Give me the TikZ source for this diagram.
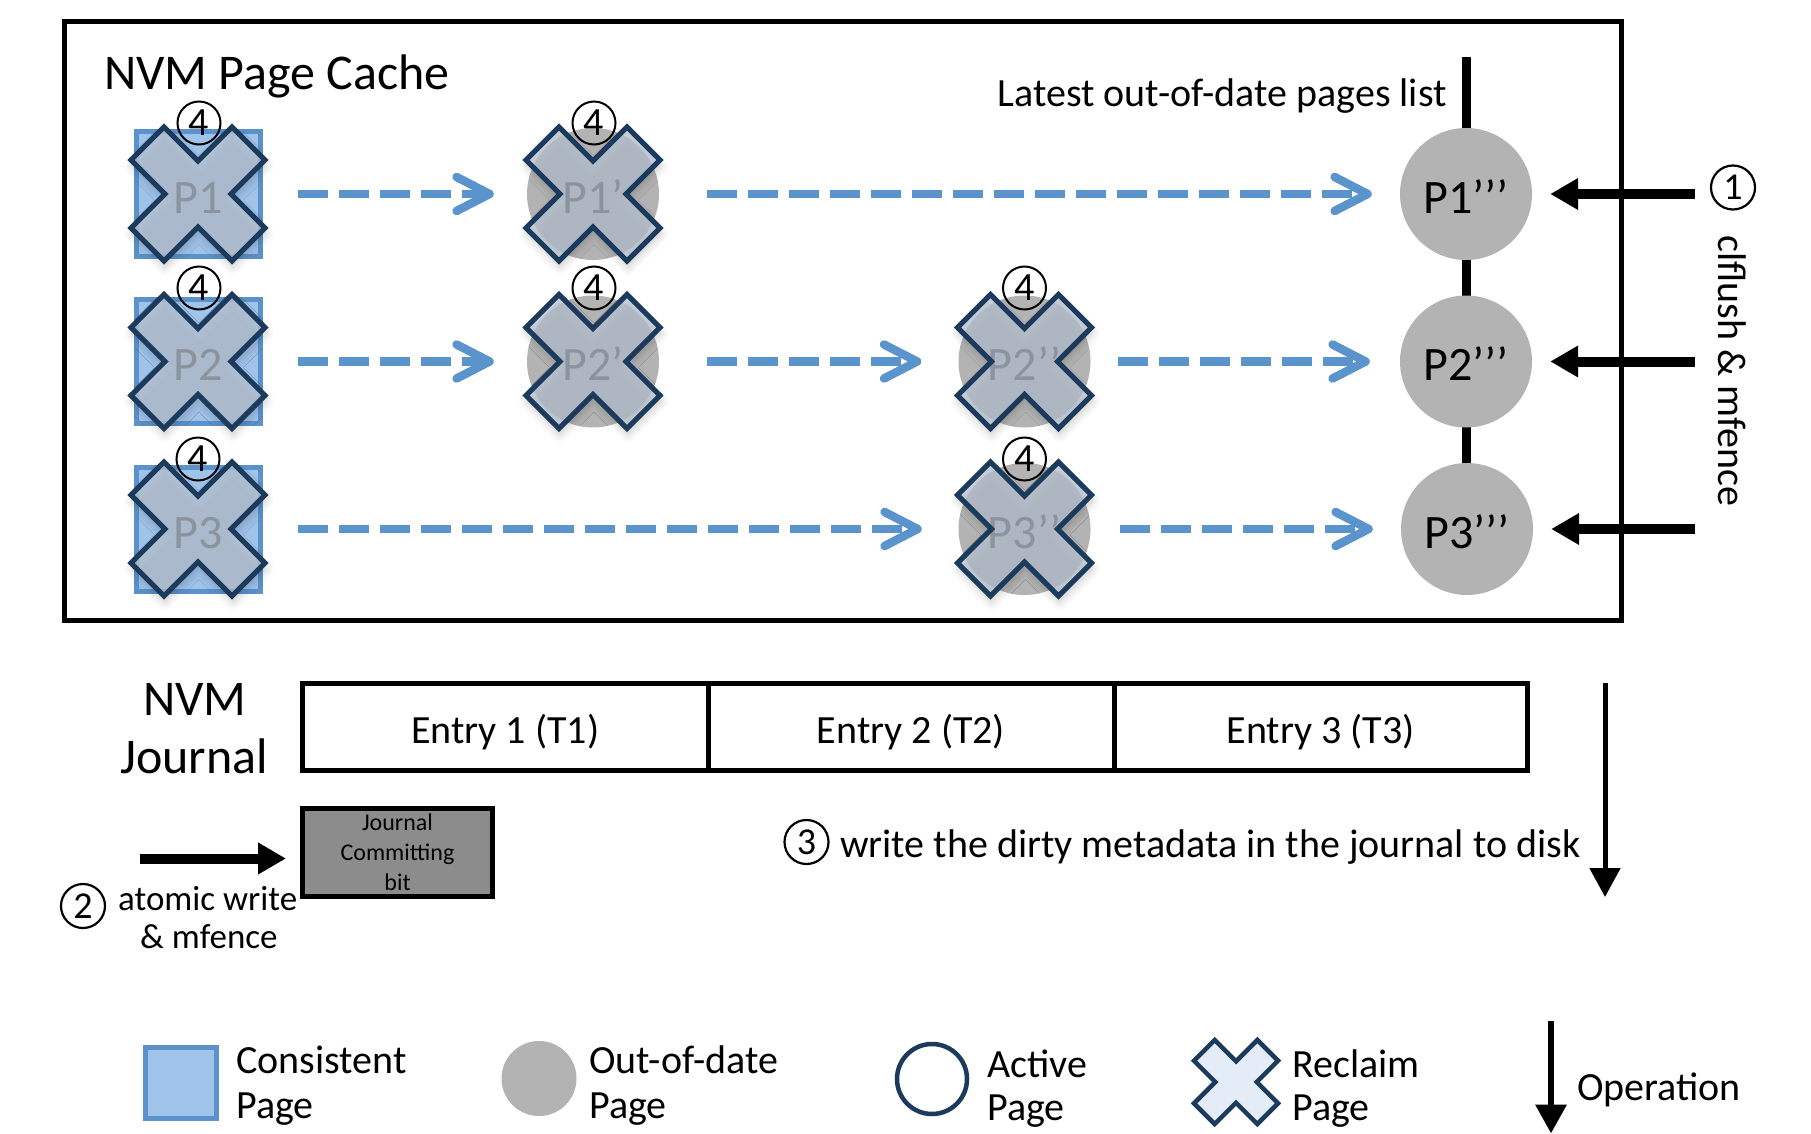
\documentclass[tikz,border=0pt]{standalone}
\usepackage{fontspec}
\setmainfont{Carlito}
\usetikzlibrary{arrows.meta,shadows.blur,calc}

\definecolor{pageblue}{HTML}{A0C3EA}
\definecolor{pageblueedge}{HTML}{5B92CB}
\definecolor{oldgray}{HTML}{B3B3B3}
\definecolor{navy}{HTML}{1B3A5C}
\definecolor{crossfill}{HTML}{BAC6D4}
\definecolor{keycross}{HTML}{E3ECF7}
\definecolor{flowblue}{HTML}{5B94CD}
\definecolor{bitgray}{HTML}{8C8C8C}

\tikzset{
  txt/.style={inner sep=0pt, font=\fontsize{40}{46}\selectfont},
  heading/.style={inner sep=0pt, font=\fontsize{50}{56}\selectfont},
  smalltxt/.style={inner sep=0pt, font=\fontsize{35}{38}\selectfont},
  consistentpage/.style={rectangle, draw=pageblueedge, fill=pageblue, line width=5pt,
    minimum size=124pt, inner sep=0pt, font=\fontsize{48}{50}\selectfont,
    text height=40pt, text depth=1.6pt},
  outdatedpage/.style={circle, fill=oldgray, minimum size=132pt, inner sep=0pt,
    font=\fontsize{48}{50}\selectfont, text height=40pt, text depth=1.6pt},
  crossmark/.style={draw=navy, line width=5pt, fill=crossfill, fill opacity=0.75,
    blur shadow={shadow xshift=1pt, shadow yshift=-6pt, shadow blur radius=8pt, shadow opacity=22}},
  keymark/.style={draw=navy, line width=4.5pt, fill=keycross},
  reclaimnum/.style={circle, draw, line width=2pt, minimum size=43pt, inner sep=0pt,
    font=\fontsize{40}{42}\selectfont},
  stepnum/.style={circle, draw, line width=2.2pt, minimum size=44pt, inner sep=0pt,
    font=\fontsize{38}{40}\selectfont},
  flow/.style={draw=flowblue, line width=8.5pt, dash pattern=on 30pt off 11pt,
    -{Straight Barb[length=33pt, width=34pt, round]}},
  pushop/.style={line width=10pt, -{Triangle[length=28pt, width=30pt]}},
  flushop/.style={line width=5pt, -{Triangle[length=29pt, width=30pt]}},
  listline/.style={line width=9pt},
  frame/.style={draw, line width=5pt, inner sep=0pt},
  entrybox/.style={draw, line width=5pt, minimum height=87pt, inner sep=0pt,
    font=\fontsize{40}{46}\selectfont, text height=40pt, text depth=8pt},
  bitbox/.style={draw, fill=bitgray, line width=5pt, minimum width=190pt, minimum height=88pt,
    inner sep=0pt, align=center, font=\fontsize{24}{30}\selectfont},
  pics/reclaim/.style={code={
    \path[#1] (0,-33) -- (34,-67) -- (67,-34) -- (33,0) -- (67,34) -- (34,67) -- (0,33)
      -- (-34,67) -- (-67,34) -- (-33,0) -- (-67,-34) -- (-34,-67) -- cycle;}},
}

\begin{document}
\begin{tikzpicture}[x=1pt, y=-1pt]
\useasboundingbox (0,0) rectangle (1811,1134);

% ---------------- NVM page cache ----------------
\node[frame, minimum width=1557.5pt, minimum height=598.5pt] (cache) at (842.75,321.25) {};
\node[heading, anchor=base west] (cachetitle) at (104,90) {NVM Page Cache};
\node[txt, anchor=base east] (listtitle) at (1447,107) {Latest out-of-date pages list};

% list of latest out-of-date pages
\coordinate (listtop) at (1466,57);
\coordinate (listend) at (1466,529);
\draw[listline] (listtop) -- (listend);
\node[outdatedpage] (p1c) at (1466,194) {P1’’’};
\node[outdatedpage] (p2c) at (1466,361.5) {P2’’’};
\node[outdatedpage] (p3c) at (1467,529) {P3’’’};

% row 1
\node[consistentpage] (p1a) at (198,194) {P1};
\pic at (198,194) {reclaim=crossmark};
\node[reclaimnum] (k1a) at (199,123) {4};
\node[outdatedpage] (p1b) at (593,194) {P1’};
\pic at (593,194) {reclaim=crossmark};
\node[reclaimnum] (k1b) at (594,123) {4};

% row 2
\node[consistentpage] (p2a) at (198,361.5) {P2};
\pic at (198,361.5) {reclaim=crossmark};
\node[reclaimnum] (k2a) at (199,288) {4};
\node[outdatedpage] (p2b) at (593,361.5) {P2’};
\pic at (593,361.5) {reclaim=crossmark};
\node[reclaimnum] (k2b) at (594,288) {4};
\node[outdatedpage] (p2x) at (1024.5,361.5) {P2’’};
\pic at (1024.5,361.5) {reclaim=crossmark};
\node[reclaimnum] (k2x) at (1024.5,288) {4};

% row 3
\node[consistentpage] (p3a) at (198,529) {P3};
\pic at (198,529) {reclaim=crossmark};
\node[reclaimnum] (k3a) at (198,459) {4};
\node[outdatedpage] (p3x) at (1024.5,529) {P3’’};
\pic at (1024.5,529) {reclaim=crossmark};
\node[reclaimnum] (k3x) at (1024.5,459) {4};

% version chains
\draw[flow, shorten <=35.5pt, shorten >=33pt] (p1a) -- (p1b);
\draw[flow, shorten <=48pt, shorten >=28pt] (p1b) -- (p1c);
\draw[flow, shorten <=35.5pt, shorten >=33pt] (p2a) -- (p2b);
\draw[flow, shorten <=48pt, shorten >=37pt] (p2b) -- (p2x);
\draw[flow, shorten <=27.5pt, shorten >=30pt] (p2x) -- (p2c);
\draw[flow, shorten <=35.5pt, shorten >=36.5pt] (p3a) -- (p3x);
\draw[flow, shorten <=29.5pt, shorten >=28pt] (p3x) -- (p3c);

% step 1: clflush & mfence
\coordinate (in1) at (1695,194);
\coordinate (in2) at (1695,361.5);
\coordinate (in3) at (1695,529);
\draw[pushop, shorten >=18pt] (in1) -- (p1c);
\draw[pushop, shorten >=18pt] (in2) -- (p2c);
\draw[pushop, shorten >=18pt] (in3) -- (p3c);
\node[stepnum] (s1) at (1733,187.5) {1};
\node[txt, rotate=-90] (flushtext) at (1732.5,371) {clflush \& mfence};

% ---------------- NVM journal ----------------
\node[heading, anchor=base] (nvmlabel) at (195,715) {NVM};
\node[heading, anchor=base] (journallabel) at (194,773) {Journal};
\node[entrybox, minimum width=405.5pt] (e1) at (505.25,727) {Entry 1 (T1)};
\node[entrybox, minimum width=406pt] (e2) at (911,727) {Entry 2 (T2)};
\node[entrybox, minimum width=413.5pt] (e3) at (1320.75,727) {Entry 3 (T3)};

\node[bitbox] (bit) at (397.5,852.5) {Journal\\Committing\\bit};

% step 2: atomic write
\coordinate (w0) at (140,858.5);
\draw[pushop, shorten >=14pt] (w0) -- (bit.west |- w0);
\node[stepnum] (s2) at (83,906) {2};
\node[smalltxt, anchor=base west] (s2a) at (118,910) {atomic write};
\node[smalltxt, anchor=base west] (s2b) at (140,948) {\& mfence};

% step 3: write back to disk
\node[stepnum] (s3) at (806.5,842) {3};
\node[txt, anchor=base west] (s3text) at (840,857) {write the dirty metadata in the journal to disk};
\coordinate (d0) at (1605,683);
\coordinate (d1) at (1605,897);
\draw[flushop] (d0) -- (d1);

% ---------------- legend ----------------
\node[consistentpage, minimum size=71pt] (keyc) at (181,1083) {};
\node[txt, anchor=base west] (keyct) at (236,1073) {Consistent};
\node[txt, anchor=base west] (keycp) at (236,1118) {Page};

\node[outdatedpage, minimum size=75pt] (keyo) at (539,1078.5) {};
\node[txt, anchor=base west] (keyot) at (589,1073) {Out-of-date};
\node[txt, anchor=base west] (keyop) at (589,1118) {Page};

\node[circle, draw=navy, line width=4.5pt, minimum size=70pt, inner sep=0pt] (keya) at (932,1079) {};
\node[txt, anchor=base west] (keyat) at (987,1077) {Active};
\node[txt, anchor=base west] (keyap) at (987,1120) {Page};

\pic[scale=0.627] at (1236,1082) {reclaim=keymark};
\node[txt, anchor=base west] (keyrt) at (1292,1077) {Reclaim};
\node[txt, anchor=base west] (keyrp) at (1292,1120) {Page};

\coordinate (op0) at (1551,1021);
\coordinate (op1) at (1551,1133.5);
\draw[line width=6.5pt, -{Triangle[length=29pt, width=30pt]}] (op0) -- (op1);
\node[txt, anchor=base west] (keyopt) at (1577,1100) {Operation};
\end{tikzpicture}
\end{document}
